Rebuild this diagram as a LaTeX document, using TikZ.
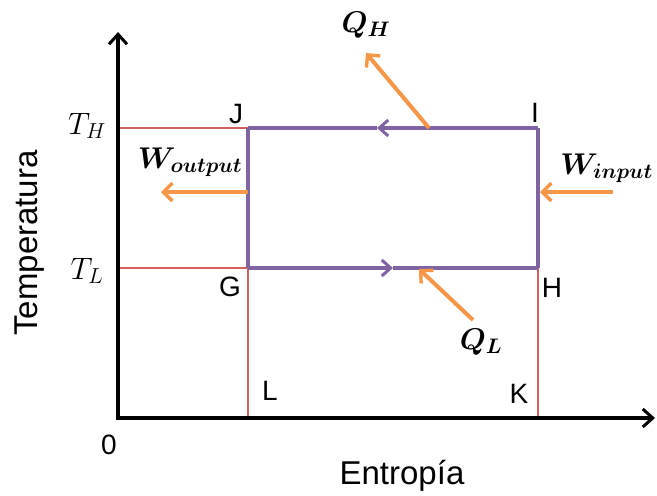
\documentclass[tikz,border=0pt]{standalone}
\usepackage{fix-cm}
\usepackage{fontspec}
\setmainfont{Liberation Sans}
\usetikzlibrary{arrows.meta}
\definecolor{cyc}{HTML}{8064A2}
\definecolor{heat}{HTML}{F79646}
\definecolor{guide}{HTML}{D65F5F}
\tikzset{
  axisline/.style={line width=3.4pt, -{Straight Barb[length=10pt,width=18pt,line width=3pt]}},
  cycline/.style={cyc, line width=3.4pt},
  cycarrow/.style={cyc, line width=3.4pt, -{Straight Barb[length=9pt,width=16pt,line width=3pt]}},
  heatarrow/.style={heat, line width=4pt, -{Straight Barb[length=9pt,width=18pt,line width=3.4pt]}},
  guideline/.style={guide, line width=1.3pt},
  ptlabel/.style={inner sep=0pt, font=\fontsize{28}{30}\selectfont},
  axlabel/.style={inner sep=0pt, font=\fontsize{33}{36}\selectfont},
  mlabel/.style={inner sep=0pt, font=\fontsize{31}{34}\selectfont},
  blabel/.style={inner sep=0pt, font=\fontsize{30}{34}\selectfont\boldmath},
}
\begin{document}
\begin{tikzpicture}[x=1pt,y=-1pt]
\useasboundingbox (0,0) rectangle (657,496);
% key points
\coordinate (O) at (118,418);
\coordinate (Ytop) at (118,32);
\coordinate (Xend) at (655,418);
\coordinate (J) at (248,128);
\coordinate (I) at (538,128);
\coordinate (H) at (538,268);
\coordinate (G) at (248,268);
\coordinate (L) at (248,418);
\coordinate (K) at (538,418);
\coordinate (TH) at (118,128);
\coordinate (TL) at (118,268);
\coordinate (topmid) at (377,128);
\coordinate (botmid) at (393,268);
\coordinate (qhs) at (429,128);
\coordinate (qht) at (366,53);
\coordinate (wos) at (248,192);
\coordinate (wot) at (161,192);
\coordinate (wis) at (613,192);
\coordinate (wit) at (540,192);
\coordinate (qls) at (473,320);
\coordinate (qlt) at (419,269);
% guide lines
\draw[guideline] (TH) -- (J);
\draw[guideline] (TL) -- (G) -- (L);
\draw[guideline] (H) -- (K);
% cycle
\draw[cycline] (J) -- (G);
\draw[cycline] (I) -- (H);
\draw[cycarrow] (I) -- (topmid);
\draw[cycline] (topmid) -- (J);
\draw[cycarrow] (G) -- (botmid);
\draw[cycline] (botmid) -- (H);
% axes
\draw[axisline, line cap=rect] (O) -- (Ytop);
\draw[axisline, line cap=rect] (O) -- (Xend);
% heat/work arrows
\draw[heatarrow] (qhs) -- (qht);
\draw[heatarrow] (wos) -- (wot);
\draw[heatarrow] (wis) -- (wit);
\draw[heatarrow] (qls) -- (qlt);
% labels
\node[ptlabel] (lJ) at (236,114) {J};
\node[ptlabel] (lI) at (535,113) {I};
\node[ptlabel] (lG) at (230,287) {G};
\node[ptlabel] (lH) at (552,288) {H};
\node[ptlabel] (lL) at (270,391) {L};
\node[ptlabel] (lK) at (519,394) {K};
\node[ptlabel] (l0) at (109,445) {0};
\node[mlabel] (lTH) at (87,126) {$T_H$};
\node[mlabel] (lTL) at (87,271) {$T_L$};
\node[blabel] (lQH) at (366,25) {$Q_H$};
\node[blabel] (lQL) at (481,342) {$Q_L$};
\node[blabel] (lWo) at (190,162) {$W_{output}$};
\node[blabel, anchor=east] (lWi) at (653,168) {$W_{input}$};
\node[axlabel] (lx) at (402,476) {Entropía};
\node[axlabel, rotate=90] (ly) at (30,243) {Temperatura};
\end{tikzpicture}
\end{document}
